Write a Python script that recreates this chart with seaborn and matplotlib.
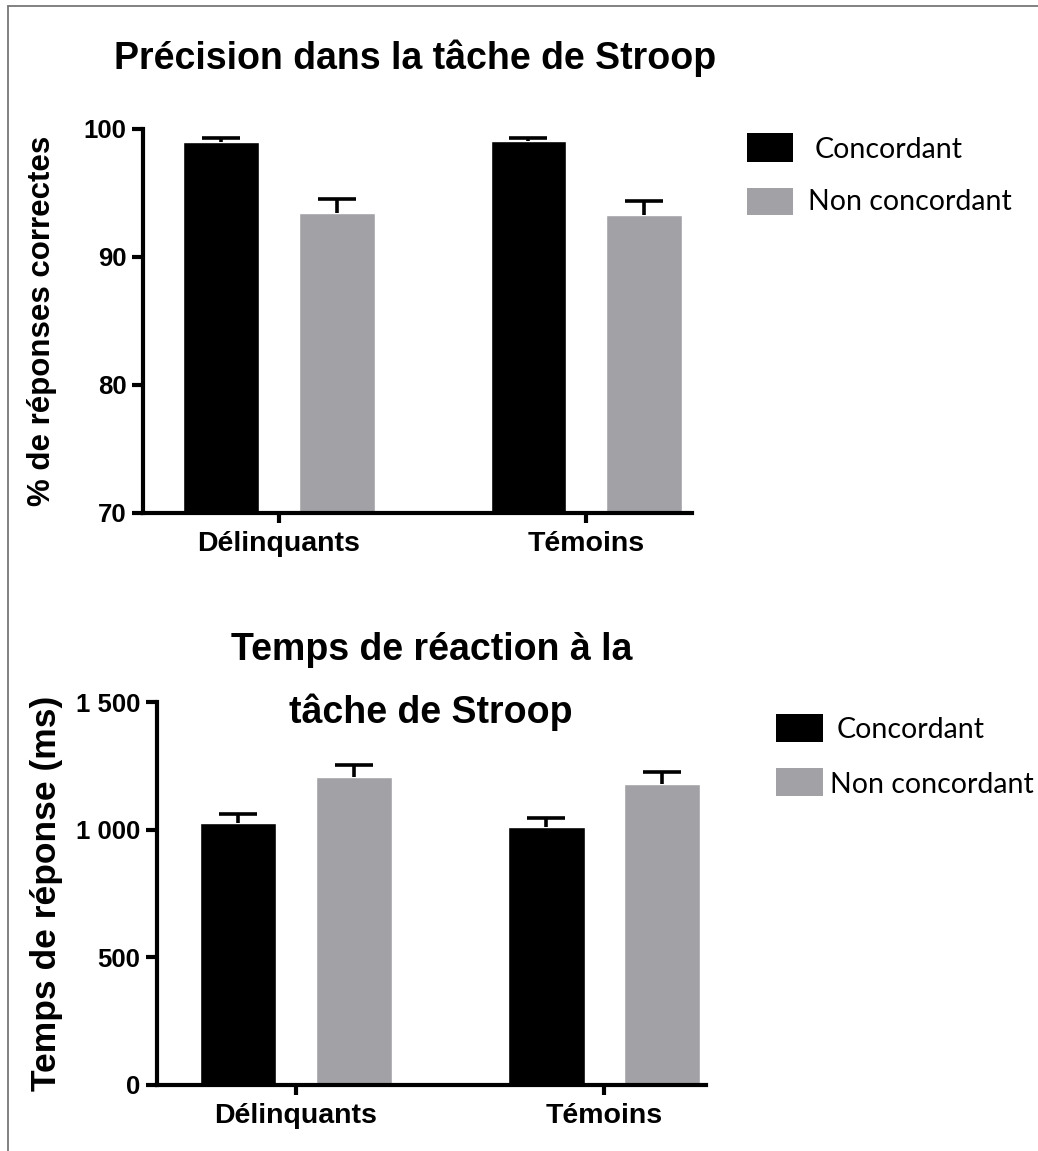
import matplotlib
matplotlib.use("Agg")
import matplotlib.pyplot as plt
from matplotlib.lines import Line2D
from matplotlib.patches import Rectangle
from matplotlib.ticker import FuncFormatter
import seaborn as sns
import pandas as pd

# ---------------- data ----------------
groupes = ["Délinquants", "Témoins"]
conditions = ["Concordant", "Non concordant"]

precision_concordant = [99.0, 99.05]
precision_non_concordant = [93.45, 93.3]
precision_sem_concordant = [0.27, 0.27]
precision_sem_non_concordant = [1.05, 1.05]

tr_concordant = [1025, 1012]
tr_non_concordant = [1208, 1177]
tr_sem_concordant = [38, 35]
tr_sem_non_concordant = [45, 50]

couleurs = ["#000000", "#A2A1A6"]

sns.set_style("white")
plt.rcParams["font.family"] = ["Liberation Sans", "DejaVu Sans"]
plt.rcParams["text.color"] = "black"
plt.rcParams["axes.labelcolor"] = "black"
plt.rcParams["xtick.color"] = "black"
plt.rcParams["ytick.color"] = "black"

W, H = 1038, 1151
fig = plt.figure(figsize=(W / 100, H / 100), dpi=100)


def frac_x(px):
    return px / W


def frac_y(py):
    return 1 - py / H


def make_df(c, nc, sc, snc):
    rows = []
    for i, g in enumerate(groupes):
        rows.append({"groupe": g, "condition": conditions[0], "valeur": c[i], "sem": sc[i]})
        rows.append({"groupe": g, "condition": conditions[1], "valeur": nc[i], "sem": snc[i]})
    return pd.DataFrame(rows)


def draw_panel(ax, df, ylim, yticks, ylabel, ylab_x, ylab_fs, xlim, fmt=None):
    sns.barplot(data=df, x="groupe", y="valeur", hue="condition", order=groupes,
                hue_order=conditions, palette=couleurs, width=0.75, gap=0.34,
                errorbar=None, saturation=1, legend=False, ax=ax, zorder=2)
    # error bars (upper only) from the bar positions computed by seaborn
    for cond, cont in zip(conditions, ax.containers):
        sub = df[df["condition"] == cond].set_index("groupe").loc[groupes]
        for bar, err in zip(cont, sub["sem"].values):
            x = bar.get_x() + bar.get_width() / 2
            y = bar.get_height()
            eb = ax.errorbar([x], [y], yerr=[[0], [err]], fmt="none", ecolor="black",
                             elinewidth=2.6, capsize=14, capthick=2.6, zorder=3)
            caps = eb[1]
            if len(caps) == 2:
                caps[0].set_visible(False)  # hide lower cap
    ax.set_ylim(*ylim)
    ax.set_xlim(*xlim)
    ax.set_yticks(yticks)
    if fmt is not None:
        ax.yaxis.set_major_formatter(FuncFormatter(fmt))
    ax.set_xlabel("")
    ax.set_ylabel(ylabel, fontsize=ylab_fs, fontweight="bold", va="center")
    ax.yaxis.set_label_coords(ylab_x, 0.5)
    for s in ["top", "right"]:
        ax.spines[s].set_visible(False)
    for s in ["left", "bottom"]:
        ax.spines[s].set_linewidth(3.0)
        ax.spines[s].set_color("black")
    ax.tick_params(axis="y", which="major", length=8, width=3.0, pad=4,
                   labelsize=18.5, direction="out", left=True, color="black")
    ax.tick_params(axis="x", which="major", length=7, width=3.0, pad=6,
                   labelsize=20.5, direction="out", bottom=True, color="black")
    for lab in ax.get_yticklabels() + ax.get_xticklabels():
        lab.set_fontweight("bold")
    ax.set_facecolor("white")


# ---------------- top panel ----------------
ax1 = fig.add_axes([frac_x(143), frac_y(513), (692 - 143) / W, 384 / H])
df1 = make_df(precision_concordant, precision_non_concordant,
              precision_sem_concordant, precision_sem_non_concordant)
draw_panel(ax1, df1, (70, 100), [70, 80, 90, 100], "% de réponses correctes",
           (42 - 143) / 549, 22.5, (-0.443, 1.345))
fig.text(frac_x(415), frac_y(58), "Précision dans la tâche de Stroop",
         ha="center", va="center", fontsize=27, fontweight="bold")

# ---------------- bottom panel ----------------
ax2 = fig.add_axes([frac_x(157), frac_y(1085), (706 - 157) / W, 383 / H])
df2 = make_df(tr_concordant, tr_non_concordant, tr_sem_concordant, tr_sem_non_concordant)
draw_panel(ax2, df2, (0, 1500), [0, 500, 1000, 1500], "Temps de réponse (ms)",
           (47 - 157) / 549, 25.5, (-0.451, 1.33),
           fmt=lambda v, p: f"{int(v):,}".replace(",", " "))
fig.text(frac_x(432), frac_y(650), "Temps de réaction à la",
         ha="center", va="center", fontsize=27, fontweight="bold")
fig.text(frac_x(431), frac_y(712), "tâche de Stroop",
         ha="center", va="center", fontsize=27, fontweight="bold")


# ---------------- legends ----------------
def legend_entry(x0, y0, w, h, color, tx, ty, label):
    fig.add_artist(Rectangle((frac_x(x0), frac_y(y0 + h)), w / W, h / H,
                             transform=fig.transFigure, facecolor=color,
                             edgecolor="none"))
    fig.text(frac_x(tx), frac_y(ty), label, ha="left", va="center", fontsize=20.5,
             family=["Lato", "DejaVu Sans"])


legend_entry(747, 133, 46, 29, couleurs[0], 815, 150, conditions[0])
legend_entry(747, 188, 46, 27, couleurs[1], 808, 202, conditions[1])
legend_entry(776, 714, 47, 28, couleurs[0], 837, 730, conditions[0])
legend_entry(776, 768, 47, 28, couleurs[1], 830, 785, conditions[1])

# frame lines of the original picture
fig.add_artist(Line2D([frac_x(8), 1], [frac_y(6), frac_y(6)], transform=fig.transFigure,
                      color="#777777", lw=1.3))
fig.add_artist(Line2D([frac_x(8), frac_x(8)], [frac_y(6), 0], transform=fig.transFigure,
                      color="#777777", lw=1.3))

fig.savefig("out.png", dpi=100, facecolor="white")
